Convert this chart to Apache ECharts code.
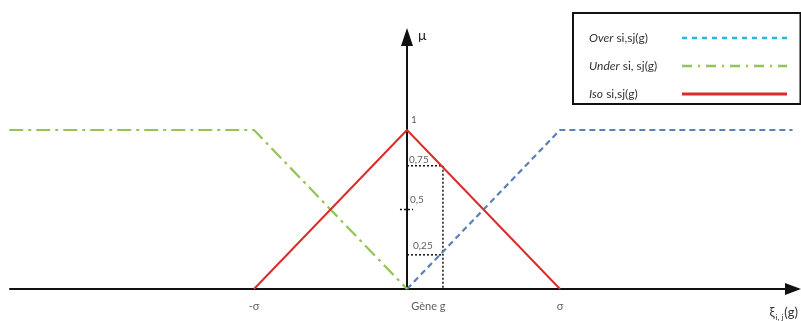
<!DOCTYPE html>
<html>
<head>
<meta charset="utf-8">
<script src="https://cdn.jsdelivr.net/npm/echarts@6/dist/echarts.min.js"></script>
<style>
html,body{margin:0;padding:0;background:#fff;}
#chart{width:801px;height:321px;}
</style>
</head>
<body>
<div id="chart"></div>
<script>
// ---- data ----
const seriesNames = ['Over si,sj(g)', 'Under si, sj(g)', 'Iso si,sj(g)'];
const overX = [0, 1, 2.52];
const overY = [0, 1, 1];
const underX = [-2.6, -1, 0];
const underY = [1, 1, 0];
const isoX = [-1, 0, 1];
const isoY = [0, 1, 0];
const xTickValues = [-1, 0.14, 1];
const xTickLabels = ['-σ', 'Gène g', 'σ'];
const yTickValues = [1, 0.75, 0.5, 0.25];
const yTickLabels = ['1', '0,75', '0,5', '0,25'];
const guideX = 0.235;
const guideHigh = 0.775;
const guideLow = 0.215;
const guideMid = 0.5;
const guideMidX = [-0.046, 0.04];

const zip = (xs, ys) => xs.map((x, i) => [x, ys[i]]);

const chart = echarts.init(document.getElementById('chart'), null, {renderer: 'canvas'});
const FONT = 'Lato';
const yLabelOffsets = [[2, -10], [0, -10], [1, -10], [4, -3]];

// legend text: italic first word, padded to a fixed total width so that icons line up
const LEG_TEXT_W = 88;
const measureCtx = document.createElement('canvas').getContext('2d');
function textW(s, italic) {
  measureCtx.font = (italic ? 'italic ' : '') + '12px ' + FONT;
  return measureCtx.measureText(s).width;
}
const legendRich = {};
seriesNames.forEach((name, k) => {
  const sp = name.indexOf(' ');
  const head = name.slice(0, sp);
  const tail = name.slice(sp);
  const pad = Math.max(0, LEG_TEXT_W - textW(head, true) - textW(tail, false));
  legendRich['i' + k] = {fontStyle: 'italic', fontSize: 12, color: '#333', fontFamily: FONT};
  legendRich['n' + k] = {fontSize: 12, color: '#333', fontFamily: FONT, padding: [0, pad, 0, 0]};
});

const dotted = {color: '#111', width: 1.5, type: [2, 2]};
const guideSeries = (data) => ({
  type: 'line', data: data, symbol: 'none', silent: true, lineStyle: dotted,
  legendHoverLink: false, z: 1, clip: false
});
const noDot = {color: 'rgba(0,0,0,0)', borderColor: 'rgba(0,0,0,0)', borderWidth: 0};

const option = {
  animation: false,
  backgroundColor: '#fff',
  textStyle: {fontFamily: FONT},
  grid: {left: 10, right: 8, top: 37, bottom: 32, containLabel: false},
  xAxis: {
    type: 'value', min: -2.595, max: 2.523,
    axisLine: {onZero: false, lineStyle: {color: '#111', width: 2}, symbol: ['none', 'triangle'], symbolSize: [12, 16]},
    axisTick: {show: false}, axisLabel: {show: false}, splitLine: {show: false},
    name: '{a|ξ}{s|i, j}{a|(g)}', nameLocation: 'end', nameGap: 5,
    nameTextStyle: {
      align: 'right', verticalAlign: 'top', padding: [16, 0, 0, 0],
      rich: {
        a: {fontSize: 13, color: '#333', fontFamily: FONT},
        s: {fontSize: 8, color: '#333', fontFamily: FONT, padding: [8, 1, 0, 1]}
      }
    }
  },
  yAxis: {
    type: 'value', min: 0, max: 1.585,
    axisLine: {onZero: true, lineStyle: {color: '#111', width: 2}, symbol: ['none', 'triangle'], symbolSize: [12, 18]},
    axisTick: {show: false}, axisLabel: {show: false}, splitLine: {show: false},
    name: 'μ', nameLocation: 'end', nameGap: 2,
    nameTextStyle: {align: 'left', verticalAlign: 'middle', padding: [0, 0, 0, 11], fontSize: 14, color: '#222', fontFamily: FONT}
  },
  legend: {
    show: true, orient: 'vertical', left: 573, top: 13,
    padding: [19, 12, 4, 16], itemGap: 16, itemWidth: 105, itemHeight: 14,
    align: 'right', borderColor: '#111', borderWidth: 2,
    selectedMode: false,
    formatter: function (name) {
      const k = seriesNames.indexOf(name);
      const sp = name.indexOf(' ');
      return '{i' + k + '|' + name.slice(0, sp) + '}{n' + k + '|' + name.slice(sp) + '}';
    },
    textStyle: {color: '#333', fontSize: 12, fontFamily: FONT, rich: legendRich},
    data: [
      {name: seriesNames[0], itemStyle: noDot, lineStyle: {color: '#2bb3e3', width: 2.5, type: [5, 5]}},
      {name: seriesNames[1], itemStyle: noDot, lineStyle: {color: '#93c455', width: 2.5, type: [10, 6, 2, 6]}},
      {name: seriesNames[2], itemStyle: noDot, lineStyle: {color: '#dc2b2b', width: 3, type: 'solid'}}
    ]
  },
  series: [
    {
      name: seriesNames[0], type: 'line', data: zip(overX, overY), symbol: 'none', clip: false,
      lineStyle: {color: '#5a80b8', width: 2.2, type: [6, 4]}, itemStyle: {color: '#2bb3e3'}, z: 3
    },
    {
      name: seriesNames[1], type: 'line', data: zip(underX, underY), symbol: 'none', clip: false,
      lineStyle: {color: '#93c455', width: 2.2, type: [14, 5, 3, 5]}, itemStyle: {color: '#93c455'}, z: 3
    },
    {
      name: seriesNames[2], type: 'line', data: zip(isoX, isoY), symbol: 'none', clip: false,
      lineStyle: {color: '#dc2b2b', width: 2}, itemStyle: {color: '#dc2b2b'}, z: 4
    },
    guideSeries([[0, guideHigh], [guideX, guideHigh], [guideX, 0]]),
    guideSeries([[0, guideLow], [guideX, guideLow]]),
    guideSeries([[guideMidX[0], guideMid], [guideMidX[1], guideMid]]),
    {
      type: 'scatter', symbolSize: 0, silent: true, clip: false, z: 5,
      data: xTickValues.map((v, i) => ({value: [v, 0], label: {formatter: xTickLabels[i]}})),
      label: {show: true, position: 'bottom', distance: 12, fontSize: 11, color: '#333', fontFamily: FONT}
    },
    {
      type: 'scatter', symbolSize: 0, silent: true, clip: false, z: 5,
      data: yTickValues.map((v, i) => ({value: [0, v], label: {formatter: yTickLabels[i], offset: yLabelOffsets[i]}})),
      label: {show: true, position: 'right', distance: 2, fontSize: 10, color: '#333', fontFamily: FONT}
    }
  ]
};
chart.setOption(option);
</script>
</body>
</html>
